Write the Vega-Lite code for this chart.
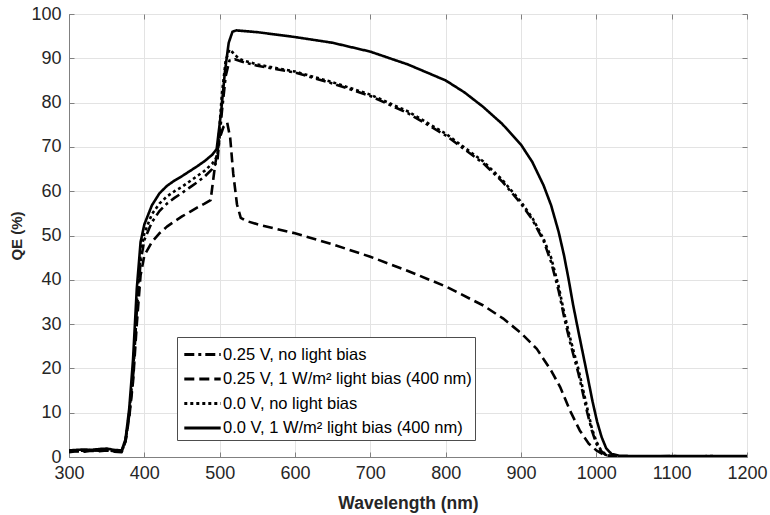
{
  "$schema": "https://vega.github.io/schema/vega-lite/v6.json",
  "width": 678,
  "height": 443,
  "autosize": {"type": "none"},
  "padding": {"left": 69, "top": 14, "right": 23, "bottom": 58},
  "background": "white",
  "config": {
    "font": "Liberation Sans",
    "view": {"stroke": "#808080", "strokeWidth": 1},
    "axis": {
      "labelColor": "#262626",
      "labelFontSize": 18,
      "titleColor": "#262626",
      "titleFontWeight": "bold",
      "domainColor": "#808080",
      "tickColor": "#808080",
      "tickSize": -5,
      "gridColor": "#e3e3e3",
      "gridWidth": 1
    }
  },
  "datasets": {
    "qe": [
      {"wl": 300, "qe": 1.2, "s": "0.25 V, no light bias"},
      {"wl": 310, "qe": 1.4, "s": "0.25 V, no light bias"},
      {"wl": 320, "qe": 1.3, "s": "0.25 V, no light bias"},
      {"wl": 330, "qe": 1.5, "s": "0.25 V, no light bias"},
      {"wl": 340, "qe": 1.4, "s": "0.25 V, no light bias"},
      {"wl": 350, "qe": 1.6, "s": "0.25 V, no light bias"},
      {"wl": 360, "qe": 1.3, "s": "0.25 V, no light bias"},
      {"wl": 370, "qe": 1.2, "s": "0.25 V, no light bias"},
      {"wl": 375, "qe": 3.5, "s": "0.25 V, no light bias"},
      {"wl": 380, "qe": 9.5, "s": "0.25 V, no light bias"},
      {"wl": 385, "qe": 18, "s": "0.25 V, no light bias"},
      {"wl": 390, "qe": 33, "s": "0.25 V, no light bias"},
      {"wl": 395, "qe": 44, "s": "0.25 V, no light bias"},
      {"wl": 400, "qe": 49, "s": "0.25 V, no light bias"},
      {"wl": 410, "qe": 53, "s": "0.25 V, no light bias"},
      {"wl": 420, "qe": 55.5, "s": "0.25 V, no light bias"},
      {"wl": 430, "qe": 57.2, "s": "0.25 V, no light bias"},
      {"wl": 440, "qe": 58.5, "s": "0.25 V, no light bias"},
      {"wl": 450, "qe": 59.6, "s": "0.25 V, no light bias"},
      {"wl": 460, "qe": 60.8, "s": "0.25 V, no light bias"},
      {"wl": 470, "qe": 62, "s": "0.25 V, no light bias"},
      {"wl": 480, "qe": 63.3, "s": "0.25 V, no light bias"},
      {"wl": 490, "qe": 65, "s": "0.25 V, no light bias"},
      {"wl": 497, "qe": 66.8, "s": "0.25 V, no light bias"},
      {"wl": 503, "qe": 78, "s": "0.25 V, no light bias"},
      {"wl": 508, "qe": 86, "s": "0.25 V, no light bias"},
      {"wl": 513, "qe": 89.5, "s": "0.25 V, no light bias"},
      {"wl": 520, "qe": 89.8, "s": "0.25 V, no light bias"},
      {"wl": 530, "qe": 89.2, "s": "0.25 V, no light bias"},
      {"wl": 550, "qe": 88.3, "s": "0.25 V, no light bias"},
      {"wl": 600, "qe": 86.8, "s": "0.25 V, no light bias"},
      {"wl": 650, "qe": 84.3, "s": "0.25 V, no light bias"},
      {"wl": 700, "qe": 81.5, "s": "0.25 V, no light bias"},
      {"wl": 750, "qe": 77.6, "s": "0.25 V, no light bias"},
      {"wl": 800, "qe": 72.6, "s": "0.25 V, no light bias"},
      {"wl": 850, "qe": 66.3, "s": "0.25 V, no light bias"},
      {"wl": 875, "qe": 62.2, "s": "0.25 V, no light bias"},
      {"wl": 900, "qe": 57.2, "s": "0.25 V, no light bias"},
      {"wl": 915, "qe": 53.6, "s": "0.25 V, no light bias"},
      {"wl": 930, "qe": 48.8, "s": "0.25 V, no light bias"},
      {"wl": 940, "qe": 44, "s": "0.25 V, no light bias"},
      {"wl": 950, "qe": 37.5, "s": "0.25 V, no light bias"},
      {"wl": 958, "qe": 31, "s": "0.25 V, no light bias"},
      {"wl": 965, "qe": 26, "s": "0.25 V, no light bias"},
      {"wl": 972, "qe": 21.5, "s": "0.25 V, no light bias"},
      {"wl": 976, "qe": 19, "s": "0.25 V, no light bias"},
      {"wl": 982, "qe": 14.5, "s": "0.25 V, no light bias"},
      {"wl": 988, "qe": 10, "s": "0.25 V, no light bias"},
      {"wl": 994, "qe": 6, "s": "0.25 V, no light bias"},
      {"wl": 1000, "qe": 3, "s": "0.25 V, no light bias"},
      {"wl": 1006, "qe": 1.4, "s": "0.25 V, no light bias"},
      {"wl": 1012, "qe": 0.5, "s": "0.25 V, no light bias"},
      {"wl": 1020, "qe": 0.2, "s": "0.25 V, no light bias"},
      {"wl": 1050, "qe": 0.1, "s": "0.25 V, no light bias"},
      {"wl": 1100, "qe": 0.2, "s": "0.25 V, no light bias"},
      {"wl": 1150, "qe": 0.1, "s": "0.25 V, no light bias"},
      {"wl": 1200, "qe": 0.1, "s": "0.25 V, no light bias"},

      {"wl": 300, "qe": 1.1, "s": "0.25 V, 1 W/m² light bias (400 nm)"},
      {"wl": 310, "qe": 1.3, "s": "0.25 V, 1 W/m² light bias (400 nm)"},
      {"wl": 320, "qe": 1.2, "s": "0.25 V, 1 W/m² light bias (400 nm)"},
      {"wl": 330, "qe": 1.4, "s": "0.25 V, 1 W/m² light bias (400 nm)"},
      {"wl": 340, "qe": 1.3, "s": "0.25 V, 1 W/m² light bias (400 nm)"},
      {"wl": 350, "qe": 1.5, "s": "0.25 V, 1 W/m² light bias (400 nm)"},
      {"wl": 360, "qe": 1.2, "s": "0.25 V, 1 W/m² light bias (400 nm)"},
      {"wl": 370, "qe": 1.1, "s": "0.25 V, 1 W/m² light bias (400 nm)"},
      {"wl": 375, "qe": 3.5, "s": "0.25 V, 1 W/m² light bias (400 nm)"},
      {"wl": 380, "qe": 9, "s": "0.25 V, 1 W/m² light bias (400 nm)"},
      {"wl": 385, "qe": 17, "s": "0.25 V, 1 W/m² light bias (400 nm)"},
      {"wl": 390, "qe": 30, "s": "0.25 V, 1 W/m² light bias (400 nm)"},
      {"wl": 395, "qe": 41, "s": "0.25 V, 1 W/m² light bias (400 nm)"},
      {"wl": 400, "qe": 45.5, "s": "0.25 V, 1 W/m² light bias (400 nm)"},
      {"wl": 410, "qe": 48.5, "s": "0.25 V, 1 W/m² light bias (400 nm)"},
      {"wl": 420, "qe": 50.5, "s": "0.25 V, 1 W/m² light bias (400 nm)"},
      {"wl": 430, "qe": 52, "s": "0.25 V, 1 W/m² light bias (400 nm)"},
      {"wl": 440, "qe": 53.2, "s": "0.25 V, 1 W/m² light bias (400 nm)"},
      {"wl": 450, "qe": 54.3, "s": "0.25 V, 1 W/m² light bias (400 nm)"},
      {"wl": 460, "qe": 55.3, "s": "0.25 V, 1 W/m² light bias (400 nm)"},
      {"wl": 470, "qe": 56.3, "s": "0.25 V, 1 W/m² light bias (400 nm)"},
      {"wl": 480, "qe": 57.2, "s": "0.25 V, 1 W/m² light bias (400 nm)"},
      {"wl": 488, "qe": 58, "s": "0.25 V, 1 W/m² light bias (400 nm)"},
      {"wl": 494, "qe": 66, "s": "0.25 V, 1 W/m² light bias (400 nm)"},
      {"wl": 500, "qe": 72, "s": "0.25 V, 1 W/m² light bias (400 nm)"},
      {"wl": 505, "qe": 74.5, "s": "0.25 V, 1 W/m² light bias (400 nm)"},
      {"wl": 510, "qe": 75.5, "s": "0.25 V, 1 W/m² light bias (400 nm)"},
      {"wl": 514, "qe": 72, "s": "0.25 V, 1 W/m² light bias (400 nm)"},
      {"wl": 518, "qe": 64, "s": "0.25 V, 1 W/m² light bias (400 nm)"},
      {"wl": 523, "qe": 57, "s": "0.25 V, 1 W/m² light bias (400 nm)"},
      {"wl": 528, "qe": 54, "s": "0.25 V, 1 W/m² light bias (400 nm)"},
      {"wl": 535, "qe": 53.3, "s": "0.25 V, 1 W/m² light bias (400 nm)"},
      {"wl": 553, "qe": 52.4, "s": "0.25 V, 1 W/m² light bias (400 nm)"},
      {"wl": 600, "qe": 50.5, "s": "0.25 V, 1 W/m² light bias (400 nm)"},
      {"wl": 650, "qe": 48, "s": "0.25 V, 1 W/m² light bias (400 nm)"},
      {"wl": 700, "qe": 45.2, "s": "0.25 V, 1 W/m² light bias (400 nm)"},
      {"wl": 750, "qe": 42, "s": "0.25 V, 1 W/m² light bias (400 nm)"},
      {"wl": 800, "qe": 38.5, "s": "0.25 V, 1 W/m² light bias (400 nm)"},
      {"wl": 850, "qe": 34.2, "s": "0.25 V, 1 W/m² light bias (400 nm)"},
      {"wl": 876, "qe": 31.3, "s": "0.25 V, 1 W/m² light bias (400 nm)"},
      {"wl": 900, "qe": 28, "s": "0.25 V, 1 W/m² light bias (400 nm)"},
      {"wl": 921, "qe": 24.4, "s": "0.25 V, 1 W/m² light bias (400 nm)"},
      {"wl": 940, "qe": 19.5, "s": "0.25 V, 1 W/m² light bias (400 nm)"},
      {"wl": 952, "qe": 15.8, "s": "0.25 V, 1 W/m² light bias (400 nm)"},
      {"wl": 965, "qe": 10.5, "s": "0.25 V, 1 W/m² light bias (400 nm)"},
      {"wl": 978, "qe": 6, "s": "0.25 V, 1 W/m² light bias (400 nm)"},
      {"wl": 990, "qe": 3, "s": "0.25 V, 1 W/m² light bias (400 nm)"},
      {"wl": 1000, "qe": 1.5, "s": "0.25 V, 1 W/m² light bias (400 nm)"},
      {"wl": 1010, "qe": 0.5, "s": "0.25 V, 1 W/m² light bias (400 nm)"},
      {"wl": 1020, "qe": 0.2, "s": "0.25 V, 1 W/m² light bias (400 nm)"},
      {"wl": 1050, "qe": 0.1, "s": "0.25 V, 1 W/m² light bias (400 nm)"},
      {"wl": 1100, "qe": 0.1, "s": "0.25 V, 1 W/m² light bias (400 nm)"},
      {"wl": 1150, "qe": 0.1, "s": "0.25 V, 1 W/m² light bias (400 nm)"},
      {"wl": 1200, "qe": 0.1, "s": "0.25 V, 1 W/m² light bias (400 nm)"},

      {"wl": 300, "qe": 1.3, "s": "0.0 V, no light bias"},
      {"wl": 310, "qe": 1.5, "s": "0.0 V, no light bias"},
      {"wl": 320, "qe": 1.4, "s": "0.0 V, no light bias"},
      {"wl": 330, "qe": 1.6, "s": "0.0 V, no light bias"},
      {"wl": 340, "qe": 1.5, "s": "0.0 V, no light bias"},
      {"wl": 350, "qe": 1.7, "s": "0.0 V, no light bias"},
      {"wl": 360, "qe": 1.4, "s": "0.0 V, no light bias"},
      {"wl": 370, "qe": 1.3, "s": "0.0 V, no light bias"},
      {"wl": 375, "qe": 3.8, "s": "0.0 V, no light bias"},
      {"wl": 380, "qe": 10, "s": "0.0 V, no light bias"},
      {"wl": 385, "qe": 19, "s": "0.0 V, no light bias"},
      {"wl": 390, "qe": 35, "s": "0.0 V, no light bias"},
      {"wl": 395, "qe": 46, "s": "0.0 V, no light bias"},
      {"wl": 400, "qe": 50.5, "s": "0.0 V, no light bias"},
      {"wl": 410, "qe": 54.8, "s": "0.0 V, no light bias"},
      {"wl": 420, "qe": 57.2, "s": "0.0 V, no light bias"},
      {"wl": 430, "qe": 58.8, "s": "0.0 V, no light bias"},
      {"wl": 440, "qe": 60, "s": "0.0 V, no light bias"},
      {"wl": 450, "qe": 61, "s": "0.0 V, no light bias"},
      {"wl": 460, "qe": 62.2, "s": "0.0 V, no light bias"},
      {"wl": 470, "qe": 63.4, "s": "0.0 V, no light bias"},
      {"wl": 480, "qe": 64.6, "s": "0.0 V, no light bias"},
      {"wl": 490, "qe": 66.2, "s": "0.0 V, no light bias"},
      {"wl": 497, "qe": 68, "s": "0.0 V, no light bias"},
      {"wl": 503, "qe": 82, "s": "0.0 V, no light bias"},
      {"wl": 508, "qe": 89.5, "s": "0.0 V, no light bias"},
      {"wl": 513, "qe": 92, "s": "0.0 V, no light bias"},
      {"wl": 518, "qe": 91.2, "s": "0.0 V, no light bias"},
      {"wl": 525, "qe": 90, "s": "0.0 V, no light bias"},
      {"wl": 530, "qe": 89.6, "s": "0.0 V, no light bias"},
      {"wl": 550, "qe": 88.6, "s": "0.0 V, no light bias"},
      {"wl": 600, "qe": 87, "s": "0.0 V, no light bias"},
      {"wl": 650, "qe": 84.6, "s": "0.0 V, no light bias"},
      {"wl": 700, "qe": 81.8, "s": "0.0 V, no light bias"},
      {"wl": 750, "qe": 78, "s": "0.0 V, no light bias"},
      {"wl": 800, "qe": 73, "s": "0.0 V, no light bias"},
      {"wl": 850, "qe": 66.7, "s": "0.0 V, no light bias"},
      {"wl": 875, "qe": 62.6, "s": "0.0 V, no light bias"},
      {"wl": 900, "qe": 57.6, "s": "0.0 V, no light bias"},
      {"wl": 915, "qe": 54, "s": "0.0 V, no light bias"},
      {"wl": 930, "qe": 49.2, "s": "0.0 V, no light bias"},
      {"wl": 940, "qe": 45, "s": "0.0 V, no light bias"},
      {"wl": 950, "qe": 38.5, "s": "0.0 V, no light bias"},
      {"wl": 958, "qe": 32, "s": "0.0 V, no light bias"},
      {"wl": 965, "qe": 27, "s": "0.0 V, no light bias"},
      {"wl": 972, "qe": 22.5, "s": "0.0 V, no light bias"},
      {"wl": 976, "qe": 20, "s": "0.0 V, no light bias"},
      {"wl": 982, "qe": 15.5, "s": "0.0 V, no light bias"},
      {"wl": 988, "qe": 11, "s": "0.0 V, no light bias"},
      {"wl": 994, "qe": 6.5, "s": "0.0 V, no light bias"},
      {"wl": 1000, "qe": 3.5, "s": "0.0 V, no light bias"},
      {"wl": 1006, "qe": 1.6, "s": "0.0 V, no light bias"},
      {"wl": 1012, "qe": 0.6, "s": "0.0 V, no light bias"},
      {"wl": 1020, "qe": 0.2, "s": "0.0 V, no light bias"},
      {"wl": 1050, "qe": 0.1, "s": "0.0 V, no light bias"},
      {"wl": 1100, "qe": 0.1, "s": "0.0 V, no light bias"},
      {"wl": 1150, "qe": 0.2, "s": "0.0 V, no light bias"},
      {"wl": 1200, "qe": 0.1, "s": "0.0 V, no light bias"},

      {"wl": 300, "qe": 1.5, "s": "0.0 V, 1 W/m² light bias (400 nm)"},
      {"wl": 310, "qe": 1.6, "s": "0.0 V, 1 W/m² light bias (400 nm)"},
      {"wl": 320, "qe": 1.7, "s": "0.0 V, 1 W/m² light bias (400 nm)"},
      {"wl": 330, "qe": 1.6, "s": "0.0 V, 1 W/m² light bias (400 nm)"},
      {"wl": 340, "qe": 1.8, "s": "0.0 V, 1 W/m² light bias (400 nm)"},
      {"wl": 350, "qe": 1.9, "s": "0.0 V, 1 W/m² light bias (400 nm)"},
      {"wl": 360, "qe": 1.6, "s": "0.0 V, 1 W/m² light bias (400 nm)"},
      {"wl": 370, "qe": 1.5, "s": "0.0 V, 1 W/m² light bias (400 nm)"},
      {"wl": 375, "qe": 4, "s": "0.0 V, 1 W/m² light bias (400 nm)"},
      {"wl": 380, "qe": 11, "s": "0.0 V, 1 W/m² light bias (400 nm)"},
      {"wl": 385, "qe": 22, "s": "0.0 V, 1 W/m² light bias (400 nm)"},
      {"wl": 390, "qe": 38, "s": "0.0 V, 1 W/m² light bias (400 nm)"},
      {"wl": 395, "qe": 48.5, "s": "0.0 V, 1 W/m² light bias (400 nm)"},
      {"wl": 400, "qe": 52.5, "s": "0.0 V, 1 W/m² light bias (400 nm)"},
      {"wl": 410, "qe": 56.8, "s": "0.0 V, 1 W/m² light bias (400 nm)"},
      {"wl": 420, "qe": 59.5, "s": "0.0 V, 1 W/m² light bias (400 nm)"},
      {"wl": 430, "qe": 61.2, "s": "0.0 V, 1 W/m² light bias (400 nm)"},
      {"wl": 440, "qe": 62.4, "s": "0.0 V, 1 W/m² light bias (400 nm)"},
      {"wl": 450, "qe": 63.4, "s": "0.0 V, 1 W/m² light bias (400 nm)"},
      {"wl": 460, "qe": 64.5, "s": "0.0 V, 1 W/m² light bias (400 nm)"},
      {"wl": 470, "qe": 65.6, "s": "0.0 V, 1 W/m² light bias (400 nm)"},
      {"wl": 480, "qe": 66.8, "s": "0.0 V, 1 W/m² light bias (400 nm)"},
      {"wl": 490, "qe": 68.2, "s": "0.0 V, 1 W/m² light bias (400 nm)"},
      {"wl": 496, "qe": 69.5, "s": "0.0 V, 1 W/m² light bias (400 nm)"},
      {"wl": 502, "qe": 78, "s": "0.0 V, 1 W/m² light bias (400 nm)"},
      {"wl": 507, "qe": 87, "s": "0.0 V, 1 W/m² light bias (400 nm)"},
      {"wl": 512, "qe": 93.5, "s": "0.0 V, 1 W/m² light bias (400 nm)"},
      {"wl": 517, "qe": 96, "s": "0.0 V, 1 W/m² light bias (400 nm)"},
      {"wl": 522, "qe": 96.3, "s": "0.0 V, 1 W/m² light bias (400 nm)"},
      {"wl": 550, "qe": 95.9, "s": "0.0 V, 1 W/m² light bias (400 nm)"},
      {"wl": 600, "qe": 94.8, "s": "0.0 V, 1 W/m² light bias (400 nm)"},
      {"wl": 650, "qe": 93.5, "s": "0.0 V, 1 W/m² light bias (400 nm)"},
      {"wl": 700, "qe": 91.5, "s": "0.0 V, 1 W/m² light bias (400 nm)"},
      {"wl": 750, "qe": 88.6, "s": "0.0 V, 1 W/m² light bias (400 nm)"},
      {"wl": 800, "qe": 85, "s": "0.0 V, 1 W/m² light bias (400 nm)"},
      {"wl": 825, "qe": 82.3, "s": "0.0 V, 1 W/m² light bias (400 nm)"},
      {"wl": 850, "qe": 79, "s": "0.0 V, 1 W/m² light bias (400 nm)"},
      {"wl": 875, "qe": 75.2, "s": "0.0 V, 1 W/m² light bias (400 nm)"},
      {"wl": 900, "qe": 70.5, "s": "0.0 V, 1 W/m² light bias (400 nm)"},
      {"wl": 915, "qe": 66.6, "s": "0.0 V, 1 W/m² light bias (400 nm)"},
      {"wl": 930, "qe": 61.3, "s": "0.0 V, 1 W/m² light bias (400 nm)"},
      {"wl": 940, "qe": 56.8, "s": "0.0 V, 1 W/m² light bias (400 nm)"},
      {"wl": 950, "qe": 50.8, "s": "0.0 V, 1 W/m² light bias (400 nm)"},
      {"wl": 957, "qe": 45.6, "s": "0.0 V, 1 W/m² light bias (400 nm)"},
      {"wl": 963, "qe": 40.3, "s": "0.0 V, 1 W/m² light bias (400 nm)"},
      {"wl": 969, "qe": 34.5, "s": "0.0 V, 1 W/m² light bias (400 nm)"},
      {"wl": 976, "qe": 28.5, "s": "0.0 V, 1 W/m² light bias (400 nm)"},
      {"wl": 982, "qe": 23.5, "s": "0.0 V, 1 W/m² light bias (400 nm)"},
      {"wl": 988, "qe": 18.5, "s": "0.0 V, 1 W/m² light bias (400 nm)"},
      {"wl": 995, "qe": 12.5, "s": "0.0 V, 1 W/m² light bias (400 nm)"},
      {"wl": 1001, "qe": 8, "s": "0.0 V, 1 W/m² light bias (400 nm)"},
      {"wl": 1007, "qe": 4.5, "s": "0.0 V, 1 W/m² light bias (400 nm)"},
      {"wl": 1013, "qe": 2, "s": "0.0 V, 1 W/m² light bias (400 nm)"},
      {"wl": 1020, "qe": 0.7, "s": "0.0 V, 1 W/m² light bias (400 nm)"},
      {"wl": 1030, "qe": 0.3, "s": "0.0 V, 1 W/m² light bias (400 nm)"},
      {"wl": 1050, "qe": 0.2, "s": "0.0 V, 1 W/m² light bias (400 nm)"},
      {"wl": 1100, "qe": 0.2, "s": "0.0 V, 1 W/m² light bias (400 nm)"},
      {"wl": 1150, "qe": 0.2, "s": "0.0 V, 1 W/m² light bias (400 nm)"},
      {"wl": 1200, "qe": 0.2, "s": "0.0 V, 1 W/m² light bias (400 nm)"}
    ]
  },
  "data": {"name": "qe"},
  "resolve": {"axis": {"x": "independent", "y": "independent"}},
  "layer": [
    {
      "mark": {"type": "line", "stroke": "black", "strokeWidth": 2.6, "strokeCap": "butt", "strokeJoin": "round", "clip": true},
      "encoding": {
        "x": {
          "field": "wl", "type": "quantitative",
          "scale": {"domain": [300, 1200], "nice": false, "zero": false},
          "axis": {"title": "Wavelength (nm)", "titleFontSize": 17.5, "titlePadding": 12, "format": "d", "values": [300, 400, 500, 600, 700, 800, 900, 1000, 1100, 1200], "labelPadding": 12, "labelFlush": false, "grid": true}
        },
        "y": {
          "field": "qe", "type": "quantitative",
          "scale": {"domain": [0, 100], "nice": false},
          "axis": {"title": "QE (%)", "titleFontSize": 15, "titlePadding": 6, "format": "d", "values": [0, 10, 20, 30, 40, 50, 60, 70, 80, 90, 100], "labelPadding": 13, "labelFlush": false, "grid": true}
        },
        "strokeDash": {
          "field": "s", "type": "nominal",
          "scale": {
            "domain": ["0.25 V, no light bias", "0.25 V, 1 W/m² light bias (400 nm)", "0.0 V, no light bias", "0.0 V, 1 W/m² light bias (400 nm)"],
            "range": [[10, 4, 3, 4], [10, 5], [3, 3], [1, 0]]
          },
          "legend": {
            "title": null,
            "orient": "none",
            "legendX": 108,
            "legendY": 323,
            "symbolType": "M-1.4,0H1.4",
            "symbolSize": 676,
            "symbolStrokeWidth": 3,
            "symbolStrokeColor": "black",
            "symbolFillColor": "transparent",
            "symbolOffset": 8,
            "labelFontSize": 16.5,
            "labelColor": "#000000",
            "labelLimit": 400,
            "labelOffset": 6,
            "padding": 3,
            "rowPadding": 1.5,
            "strokeColor": "#4d4d4d",
            "fillColor": "white"
          }
        }
      }
    },
    {
      "mark": {"type": "point", "opacity": 0},
      "encoding": {
        "x": {
          "field": "wl", "type": "quantitative",
          "axis": {"orient": "top", "labels": false, "title": null, "grid": false, "domain": false, "values": [300, 400, 500, 600, 700, 800, 900, 1000, 1100, 1200]}
        },
        "y": {
          "field": "qe", "type": "quantitative",
          "axis": {"orient": "right", "labels": false, "title": null, "grid": false, "domain": false, "values": [0, 10, 20, 30, 40, 50, 60, 70, 80, 90, 100]}
        }
      }
    }
  ]
}
